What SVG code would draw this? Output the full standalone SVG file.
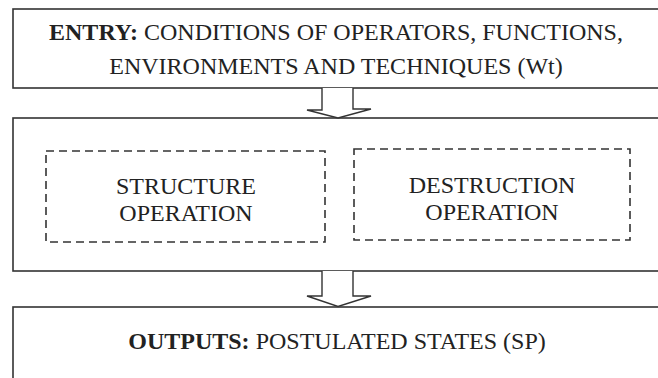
<svg xmlns="http://www.w3.org/2000/svg" width="658" height="378" viewBox="0 0 658 378">
<style>
.box{fill:#fff;stroke:#333;stroke-width:1.6}
.dash{fill:none;stroke:#333;stroke-width:1.6;stroke-dasharray:8,5}
.arrow{fill:#fff;stroke:#333;stroke-width:1.4;stroke-linejoin:miter}
text{font-family:"Liberation Serif","Times New Roman",serif;fill:#222;text-anchor:middle;font-size:24px}
.b{font-weight:bold}
</style>
<rect width="658" height="378" fill="#fff"/>
<g id="entry">
<rect class="box" x="13" y="9" width="660" height="79"/>
<text x="336" y="40"><tspan class="b">ENTRY:</tspan> CONDITIONS OF OPERATORS, FUNCTIONS,</text>
<text x="336" y="74">ENVIRONMENTS AND TECHNIQUES (Wt)</text>
</g>
<g id="process">
<rect class="box" x="13" y="118" width="660" height="153"/>
</g>
<g id="structure">
<rect class="dash" x="46" y="151" width="279" height="91"/>
<text x="186" y="194">STRUCTURE</text>
<text x="186" y="221">OPERATION</text>
</g>
<g id="destruction">
<rect class="dash" x="354" y="149" width="276" height="91"/>
<text x="492" y="193">DESTRUCTION</text>
<text x="492" y="220">OPERATION</text>
</g>
<g id="outputs">
<rect class="box" x="13" y="307" width="660" height="90"/>
<text x="337" y="349"><tspan class="b">OUTPUTS:</tspan> POSTULATED STATES (SP)</text>
</g>
<g id="connectors">
<path class="arrow" d="M322,88 V110 H307 L338,118 L371,109 H353 V88"/>
<path class="arrow" d="M322,271 V296 H307 L338,306.5 L371,296 H353 V271"/>
</g>
</svg>
